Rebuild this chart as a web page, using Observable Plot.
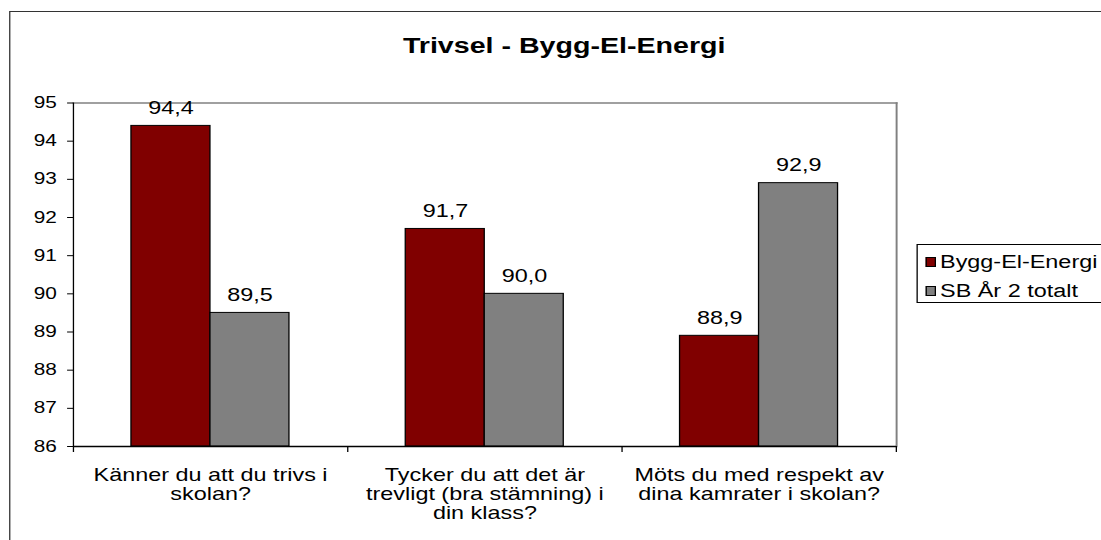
<!DOCTYPE html>
<html>
<head>
<meta charset="utf-8">
<script src="https://cdn.jsdelivr.net/npm/d3@7"></script>
<script src="https://cdn.jsdelivr.net/npm/@observablehq/plot@0.6"></script>
<style>
  html, body { margin: 0; padding: 0; background: #fff; overflow: hidden; }
  body { width: 1101px; height: 540px; position: relative; font-family: "Liberation Sans", Arial, sans-serif; }
  #stage { position: absolute; left: 0; top: 0; width: 847px; height: 540px; transform: scaleX(1.3); transform-origin: 0 0; }
  #border { position: absolute; left: 6.5px; top: 11px; width: 1000px; height: 700px; border: 1.5px solid #333; box-sizing: border-box; }
  #title { position: absolute; left: 234px; top: 35px; width: 400px; line-height: 22px; text-align: center; font-weight: bold; font-size: 22px; color: #000; }
  #chart { position: absolute; left: 0; top: 70px; }
  #legend { position: absolute; left: 704.6px; top: 244px; width: 250px; height: 59px; border: 1px solid #000; box-sizing: border-box; background: #fff; font-size: 18px; }
  .item { position: absolute; left: 6.5px; display: flex; align-items: center; line-height: 20px; }
  .sw { width: 5.5px; height: 8px; border: 1px solid #000; margin-right: 3.5px; }
</style>
</head>
<body>
<div id="stage">
<div id="border"></div>
<div id="title">Trivsel - Bygg-El-Energi</div>
<div id="chart"></div>
<div id="legend"></div>
</div>
<script>
const categories = [
  "Känner du att du trivs i\nskolan?",
  "Tycker du att det är\ntrevligt (bra stämning) i\ndin klass?",
  "Möts du med respekt av\ndina kamrater i skolan?"
];
const seriesNames = ["Bygg-El-Energi", "SB År 2 totalt"];
const byggValues = [94.4, 91.7, 88.9];
const sbValues = [89.5, 90.0, 92.9];
const yTicks = [86, 87, 88, 89, 90, 91, 92, 93, 94, 95];
const colors = ["#800000", "#808080"];

const data = [];
categories.forEach((c, i) => {
  data.push({cat: c, series: seriesNames[0], value: byggValues[i]});
  data.push({cat: c, series: seriesNames[1], value: sbValues[i]});
});

const W = 700, H = 480, mL = 56.2, mR = 10.8, mT = 32.5, mB = 104;
const bw = (W - mL - mR) / categories.length;
const gapFrac = 0.212, barFrac = 0.288;
const fmt = v => v.toFixed(1).replace(".", ",");

const insetFor = s => s === seriesNames[0]
  ? {insetLeft: bw * gapFrac, insetRight: bw * (1 - gapFrac - barFrac)}
  : {insetLeft: bw * (gapFrac + barFrac), insetRight: bw * gapFrac};

const marks = [];
seriesNames.forEach((s, k) => {
  const sub = data.filter(d => d.series === s);
  const ins = insetFor(s);
  marks.push(Plot.barY(sub, {x: "cat", y1: 86, y2: "value", fill: colors[k], stroke: "#000", strokeWidth: 1, ...ins}));
  marks.push(Plot.text(sub, {x: "cat", y: "value", text: d => fmt(d.value), dx: (ins.insetLeft - ins.insetRight) / 2, dy: -12, lineAnchor: "bottom", fontSize: 18, fill: "#000"}));
});

const chart = Plot.plot({
  width: W, height: H,
  marginLeft: mL, marginRight: mR, marginTop: mT, marginBottom: mB,
  style: {fontFamily: "'Liberation Sans', Arial, sans-serif", background: "transparent", overflow: "visible"},
  x: {domain: categories, padding: 0, axis: null},
  y: {domain: [86, 95], axis: null},
  marks: [
    Plot.frame({anchor: "top", stroke: "#808080", strokeWidth: 1.5}),
    Plot.frame({anchor: "right", stroke: "#808080", strokeWidth: 1.5}),
    ...marks,
    Plot.ruleX(categories, {x: d => d, y1: 86, dx: -bw / 2, y2: 86, insetBottom: -6, stroke: "#000"}),
    Plot.ruleX([categories[categories.length - 1]], {x: d => d, y1: 86, y2: 86, dx: bw / 2, insetBottom: -6, stroke: "#000"}),
    Plot.ruleY([86], {stroke: "#000", strokeWidth: 1.5}),
    Plot.ruleX([categories[0]], {x: d => d, dx: -bw / 2, y1: 86, y2: 95, stroke: "#000", strokeWidth: 1}),
    Plot.axisY({ticks: yTicks, label: null, tickSize: 4.6, tickPadding: 8.4, fontSize: 16, tickFormat: d => String(d), color: "#000"}),
    Plot.text(categories, {x: d => d, text: d => d, frameAnchor: "bottom", lineAnchor: "top", dy: 21, fontSize: 18, lineHeight: 1.06, fill: "#000"})
  ]
});
document.getElementById("chart").appendChild(chart);

const legend = document.getElementById("legend");
seriesNames.forEach((s, k) => {
  const it = document.createElement("div");
  it.className = "item";
  it.style.top = (k === 0 ? 7 : 36) + "px";
  const sw = document.createElement("div");
  sw.className = "sw";
  sw.style.background = colors[k];
  const tx = document.createElement("span");
  tx.textContent = s;
  it.appendChild(sw); it.appendChild(tx);
  legend.appendChild(it);
});
</script>
</body>
</html>
